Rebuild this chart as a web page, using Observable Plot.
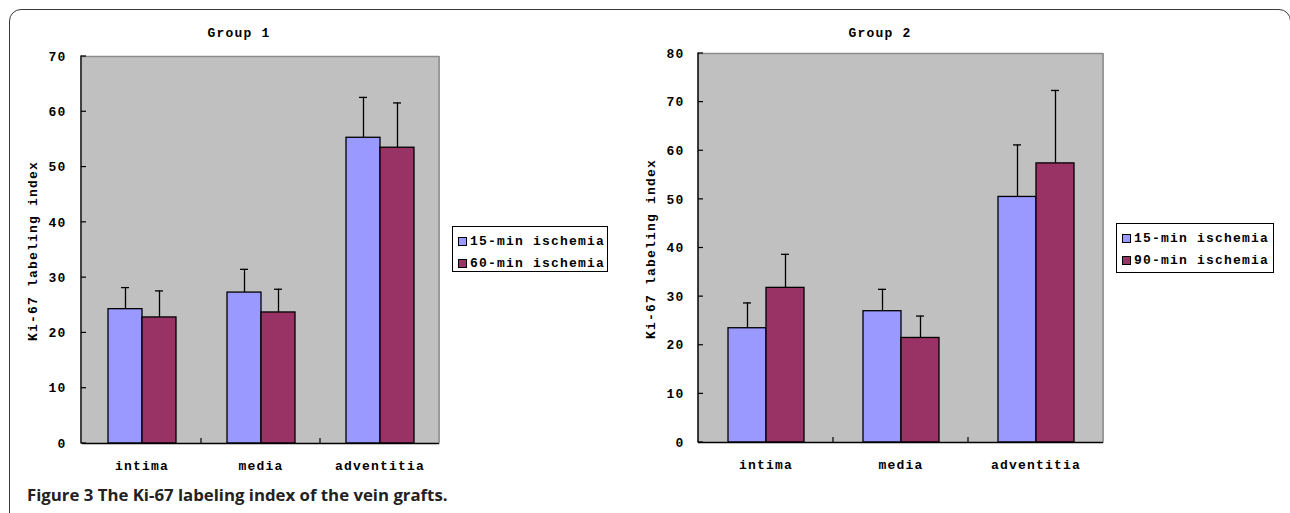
<!DOCTYPE html>
<html>
<head>
<meta charset="utf-8">
<script src="https://cdn.jsdelivr.net/npm/d3@7"></script>
<script src="https://cdn.jsdelivr.net/npm/@observablehq/plot@0.6"></script>
<style>
  html, body { margin: 0; padding: 0; background: #fff; overflow: hidden; }
  #page { position: relative; width: 1290px; height: 513px; overflow: hidden; background: #fff; }
  #border { position: absolute; left: 9px; top: 9px; width: 1282px; height: 600px; border: 1.5px solid #3a3a3a; border-radius: 12px; box-sizing: border-box; }
  .mono { font-family: "Liberation Mono", "DejaVu Sans Mono", monospace; font-size: 13px; font-weight: 700; letter-spacing: 1.2px; color: #000; white-space: nowrap; }
  .title { position: absolute; transform: translate(-50%, -50%); }
  .ylab { position: absolute; transform: translate(-50%, -50%) rotate(-90deg); }
  .chart { position: absolute; top: 0; }
  .chart svg text { letter-spacing: 1.2px; }
  .legend { position: absolute; border: 1px solid #000; background: #fff; box-sizing: border-box; padding: 3px 0 0 5px; }
  .legend .row { display: flex; align-items: center; height: 22px; }
  .legend .sw { width: 9px; height: 9px; border: 1px solid #000; margin-right: 3px; box-sizing: border-box; }
  #caption { position: absolute; left: 27px; top: 483px; font-family: "Open Sans", sans-serif; font-size: 16.8px; font-weight: 700; color: #222; white-space: nowrap; }
</style>
</head>
<body>
<div id="page">
  <div id="border"></div>
</div>
<script>
// ---------- data ----------
const categories = ["intima", "media", "adventitia"];
const yTicks1 = [0, 10, 20, 30, 40, 50, 60, 70];
const yTicks2 = [0, 10, 20, 30, 40, 50, 60, 70, 80];

const group1Series = ["15-min ischemia", "60-min ischemia"];
const group1Mean15 = [24.3, 27.3, 55.3];
const group1SD15   = [3.9, 4.2, 7.3];
const group1Mean60 = [22.8, 23.7, 53.5];
const group1SD60   = [4.8, 4.2, 8.1];

const group2Series = ["15-min ischemia", "90-min ischemia"];
const group2Mean15 = [23.5, 27.0, 50.5];
const group2SD15   = [5.2, 4.5, 10.7];
const group2Mean90 = [31.8, 21.5, 57.4];
const group2SD90   = [6.9, 4.5, 15.0];

const seriesColors = ["#9999ff", "#993366"];

// ---------- helpers ----------
function buildRows(series, means, sds) {
  const rows = [];
  categories.forEach((c, i) => {
    series.forEach((s, j) => rows.push({cat: c, series: s, mean: means[j][i], sd: sds[j][i]}));
  });
  return rows;
}

function drawChart(cfg) {
  const rows = buildRows(cfg.series, cfg.means, cfg.sds);
  const chart = Plot.plot({
    width: cfg.width,
    height: cfg.height,
    marginLeft: cfg.marginLeft,
    marginRight: cfg.marginRight,
    marginTop: cfg.marginTop,
    marginBottom: cfg.marginBottom,
    style: {fontFamily: "'Liberation Mono', 'DejaVu Sans Mono', monospace", fontSize: "13px", fontWeight: "700", background: "transparent", color: "#000"},
    fx: {domain: categories, padding: 0, label: null, axis: null},
    x: {domain: cfg.series, paddingInner: 0, paddingOuter: 0.75, axis: null},
    y: {domain: [0, cfg.yMax], label: null, axis: null},
    color: {domain: cfg.series, range: seriesColors},
    marks: [
      Plot.frame({fill: "#c0c0c0", stroke: "#c0c0c0", strokeWidth: 1}),
      Plot.ruleY([cfg.yMax], {stroke: "#8c8c8c", strokeWidth: 1.5}),
      Plot.barY(rows, {fx: "cat", x: "series", y: "mean", fill: "series", stroke: "#000", strokeWidth: 1.3}),
      Plot.ruleX(rows, {fx: "cat", x: "series", y1: "mean", y2: d => d.mean + d.sd, stroke: "#000", strokeWidth: 1.3}),
      Plot.tickY(rows, {fx: "cat", x: "series", y: d => d.mean + d.sd, stroke: "#000", strokeWidth: 1.3, insetLeft: cfg.capInset, insetRight: cfg.capInset}),
      Plot.ruleY([0], {stroke: "#000", strokeWidth: 1.5}),
      Plot.axisY({ticks: cfg.yTicks, tickSize: 0, tickPadding: cfg.yPad, tickFormat: d => String(d), fontWeight: 700}),
      Plot.axisFx({anchor: "bottom", tickSize: 0, tickPadding: 17, label: null, fontWeight: 700})
    ]
  });
  // axis chrome through the plot's own scales
  const fx = chart.scale("fx");
  const y = chart.scale("y");
  const svg = d3.select(chart);
  const x0 = cfg.marginLeft, x1 = cfg.width - cfg.marginRight;
  const yb = y.apply(0), yt = y.apply(cfg.yMax);
  svg.append("line").attr("x1", x1).attr("x2", x1).attr("y1", yt).attr("y2", yb)
    .attr("stroke", "#8c8c8c").attr("stroke-width", 1.5);
  svg.append("line").attr("x1", x0).attr("x2", x0).attr("y1", yt - 0.5).attr("y2", yb + 0.5)
    .attr("stroke", "#000").attr("stroke-width", 1.5);
  cfg.yTicks.forEach(t => {
    svg.append("line").attr("x1", x0).attr("x2", x0 + 5).attr("y1", y.apply(t)).attr("y2", y.apply(t))
      .attr("stroke", "#000").attr("stroke-width", 1.2);
  });
  categories.slice(1).forEach(c => {
    const xx = fx.apply(c);
    svg.append("line").attr("x1", xx).attr("x2", xx).attr("y1", yb).attr("y2", yb - 5)
      .attr("stroke", "#000").attr("stroke-width", 1.2);
  });
  const div = document.createElement("div");
  div.className = "chart";
  div.style.left = cfg.left + "px";
  div.appendChild(chart);
  return div;
}

function addText(cls, text, x, y) {
  const d = document.createElement("div");
  d.className = "mono " + cls;
  d.textContent = text;
  d.style.left = x + "px";
  d.style.top = y + "px";
  document.getElementById("page").appendChild(d);
}

function addLegend(series, x, y, w, h) {
  const lg = document.createElement("div");
  lg.className = "legend mono";
  lg.style.left = x + "px"; lg.style.top = y + "px";
  lg.style.width = w + "px"; lg.style.height = h + "px";
  series.forEach((s, i) => {
    const r = document.createElement("div");
    r.className = "row";
    const sw = document.createElement("div");
    sw.className = "sw";
    sw.style.background = seriesColors[i];
    const t = document.createElement("span");
    t.textContent = s;
    r.appendChild(sw); r.appendChild(t);
    lg.appendChild(r);
  });
  document.getElementById("page").appendChild(lg);
}

const page = document.getElementById("page");
page.appendChild(drawChart({
  left: 0, width: 460, height: 480,
  marginLeft: 81, marginRight: 21, marginTop: 56, marginBottom: 37,
  series: group1Series, means: [group1Mean15, group1Mean60], sds: [group1SD15, group1SD60],
  yMax: 70, yTicks: yTicks1, yPad: 16, capInset: 13
}));
page.appendChild(drawChart({
  left: 640, width: 480, height: 480,
  marginLeft: 58, marginRight: 17, marginTop: 53, marginBottom: 38,
  series: group2Series, means: [group2Mean15, group2Mean90], sds: [group2SD15, group2SD90],
  yMax: 80, yTicks: yTicks2, yPad: 14, capInset: 15
}));

addText("title", "Group 1", 239, 33);
addText("title", "Group 2", 880, 33);
addText("ylab", "Ki-67 labeling index", 33, 251);
addText("ylab", "Ki-67 labeling index", 651, 249);
addLegend(group1Series, 452, 226, 156, 46);
addLegend(group2Series, 1116, 223, 158, 50);

const cap = document.createElement("div");
cap.id = "caption";
cap.textContent = "Figure 3 The Ki-67 labeling index of the vein grafts.";
page.appendChild(cap);
</script>
</body>
</html>
